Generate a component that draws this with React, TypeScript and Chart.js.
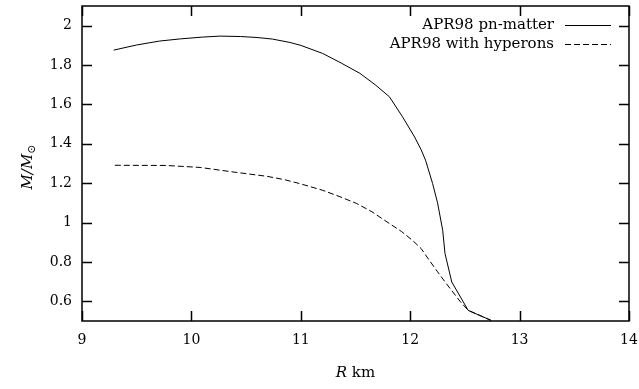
import React, { useEffect, useRef } from "react";
import { Chart, registerables } from "chart.js";

Chart.register(...registerables);

const solidR = [9.29, 9.5, 9.71, 9.9, 10.1, 10.26, 10.45, 10.6, 10.74, 10.9, 11.0, 11.2, 11.37, 11.54, 11.68, 11.81, 11.93, 12.04, 12.1, 12.14, 12.205, 12.25, 12.297, 12.318, 12.38, 12.53, 12.74];
const solidM = [1.876, 1.902, 1.922, 1.933, 1.942, 1.947, 1.945, 1.94, 1.932, 1.915, 1.9, 1.859, 1.81, 1.758, 1.7, 1.639, 1.537, 1.435, 1.37, 1.317, 1.198, 1.1, 0.961, 0.843, 0.698, 0.554, 0.503];

const dashedR = [9.3, 9.77, 10.08, 10.38, 10.69, 10.85, 10.99, 11.2, 11.35, 11.51, 11.65, 11.81, 11.92, 12.02, 12.1, 12.175, 12.25, 12.33, 12.46, 12.53, 12.74];
const dashedM = [1.291, 1.29, 1.28, 1.257, 1.235, 1.218, 1.198, 1.164, 1.133, 1.097, 1.055, 0.995, 0.955, 0.91, 0.868, 0.808, 0.75, 0.69, 0.597, 0.554, 0.503];

const seriesNames = ["APR98 pn-matter", "APR98 with hyperons"];

const xTicks = [9, 10, 11, 12, 13, 14];
const xTickLabels = ["9", "10", "11", "12", "13", "14"];
const yTicks = [0.6, 0.8, 1.0, 1.2, 1.4, 1.6, 1.8, 2.0];
const yTickLabels = ["0.6", "0.8", "1", "1.2", "1.4", "1.6", "1.8", "2"];

const FONT = "'DejaVu Serif', serif";

const framePlugin = {
  id: "frame",
  afterDraw(chart: any) {
    const { ctx, chartArea: a, scales } = chart;
    const xs = scales.x;
    const ys = scales.y;
    ctx.save();
    ctx.strokeStyle = "#000";
    ctx.lineWidth = 1.5;
    ctx.strokeRect(a.left, a.top, a.right - a.left, a.bottom - a.top);
    const tl = 10;
    ctx.beginPath();
    xTicks.forEach((v) => {
      const px = Math.round(xs.getPixelForValue(v)) + 0.5;
      ctx.moveTo(px, a.bottom);
      ctx.lineTo(px, a.bottom - tl);
      ctx.moveTo(px, a.top);
      ctx.lineTo(px, a.top + tl);
    });
    yTicks.forEach((v) => {
      const py = Math.round(ys.getPixelForValue(v)) + 0.5;
      ctx.moveTo(a.left, py);
      ctx.lineTo(a.left + tl, py);
      ctx.moveTo(a.right, py);
      ctx.lineTo(a.right - tl, py);
    });
    ctx.stroke();

    // legend
    ctx.fillStyle = "#000";
    ctx.font = `15px ${FONT}`;
    ctx.textAlign = "right";
    ctx.textBaseline = "middle";
    const rows = [25, 44];
    const dashes = [[], [6, 3]];
    seriesNames.forEach((n, i) => {
      ctx.fillText(n, 554, rows[i]);
      ctx.beginPath();
      ctx.setLineDash(dashes[i]);
      ctx.lineWidth = 1;
      ctx.moveTo(565, rows[i] + 0.5);
      ctx.lineTo(611, rows[i] + 0.5);
      ctx.stroke();
    });
    ctx.setLineDash([]);

    // x title
    ctx.textAlign = "left";
    ctx.textBaseline = "alphabetic";
    const cx = (a.left + a.right) / 2;
    ctx.font = `italic 15px ${FONT}`;
    const rW = ctx.measureText("R").width;
    ctx.font = `15px ${FONT}`;
    const kmW = ctx.measureText(" km").width;
    const sx = cx - (rW + kmW) / 2;
    ctx.font = `italic 15px ${FONT}`;
    ctx.fillText("R", sx, 377);
    ctx.font = `15px ${FONT}`;
    ctx.fillText(" km", sx + rW, 377);

    // y title
    ctx.save();
    ctx.translate(32, 167);
    ctx.rotate(-Math.PI / 2);
    ctx.font = `italic 15px ${FONT}`;
    const mW = ctx.measureText("M/M").width;
    ctx.font = `11px ${FONT}`;
    const sW = ctx.measureText("⊙").width;
    const yx = -(mW + sW) / 2;
    ctx.font = `italic 15px ${FONT}`;
    ctx.fillText("M/M", yx, 0);
    ctx.font = `11px ${FONT}`;
    ctx.fillText("⊙", yx + mW, 3);
    ctx.restore();
    ctx.restore();
  },
};

export default function App() {
  const ref = useRef<HTMLCanvasElement>(null);
  useEffect(() => {
    document.body.style.margin = "0";
    const chart = new Chart(ref.current!, {
      type: "line",
      data: {
        datasets: [
          {
            label: seriesNames[0],
            data: solidR.map((r, i) => ({ x: r, y: solidM[i] })),
            borderColor: "#000",
            borderWidth: 1,
            pointRadius: 0,
            fill: false,
            tension: 0,
          },
          {
            label: seriesNames[1],
            data: dashedR.map((r, i) => ({ x: r, y: dashedM[i] })),
            borderColor: "#000",
            borderWidth: 1,
            borderDash: [6, 3],
            pointRadius: 0,
            fill: false,
            tension: 0,
          },
        ],
      },
      options: {
        animation: false,
        responsive: false,
        layout: { padding: { top: 6, right: 10, left: 0, bottom: 0 } },
        plugins: { legend: { display: false }, tooltip: { enabled: false } },
        scales: {
          x: {
            type: "linear",
            min: 9,
            max: 14,
            grid: { display: false, drawTicks: false },
            border: { display: false },
            afterBuildTicks: (s: any) => {
              s.ticks = xTicks.map((v) => ({ value: v }));
            },
            afterFit: (s: any) => {
              s.height = 68;
              s.paddingLeft = 0;
              s.paddingRight = 0;
            },
            ticks: {
              padding: 11,
              color: "#000",
              font: { family: FONT, size: 14 },
              maxRotation: 0,
              callback: (v: any) => xTickLabels[xTicks.indexOf(Number(v))] ?? "",
            },
          },
          y: {
            type: "linear",
            min: 0.5,
            max: 2.1,
            grid: { display: false, drawTicks: false },
            border: { display: false },
            afterBuildTicks: (s: any) => {
              s.ticks = yTicks.map((v) => ({ value: v }));
            },
            afterFit: (s: any) => {
              s.width = 82;
              s.paddingTop = 0;
              s.paddingBottom = 0;
            },
            ticks: {
              padding: 10,
              color: "#000",
              font: { family: FONT, size: 14 },
              callback: (v: any) => {
                const i = yTicks.findIndex((t) => Math.abs(t - Number(v)) < 1e-6);
                return i >= 0 ? yTickLabels[i] : "";
              },
            },
          },
        },
      },
      plugins: [framePlugin],
    });
    return () => chart.destroy();
  }, []);
  return (
    <div style={{ width: 639, height: 389 }}>
      <canvas ref={ref} width={639} height={389} style={{ display: "block" }} />
    </div>
  );
}
